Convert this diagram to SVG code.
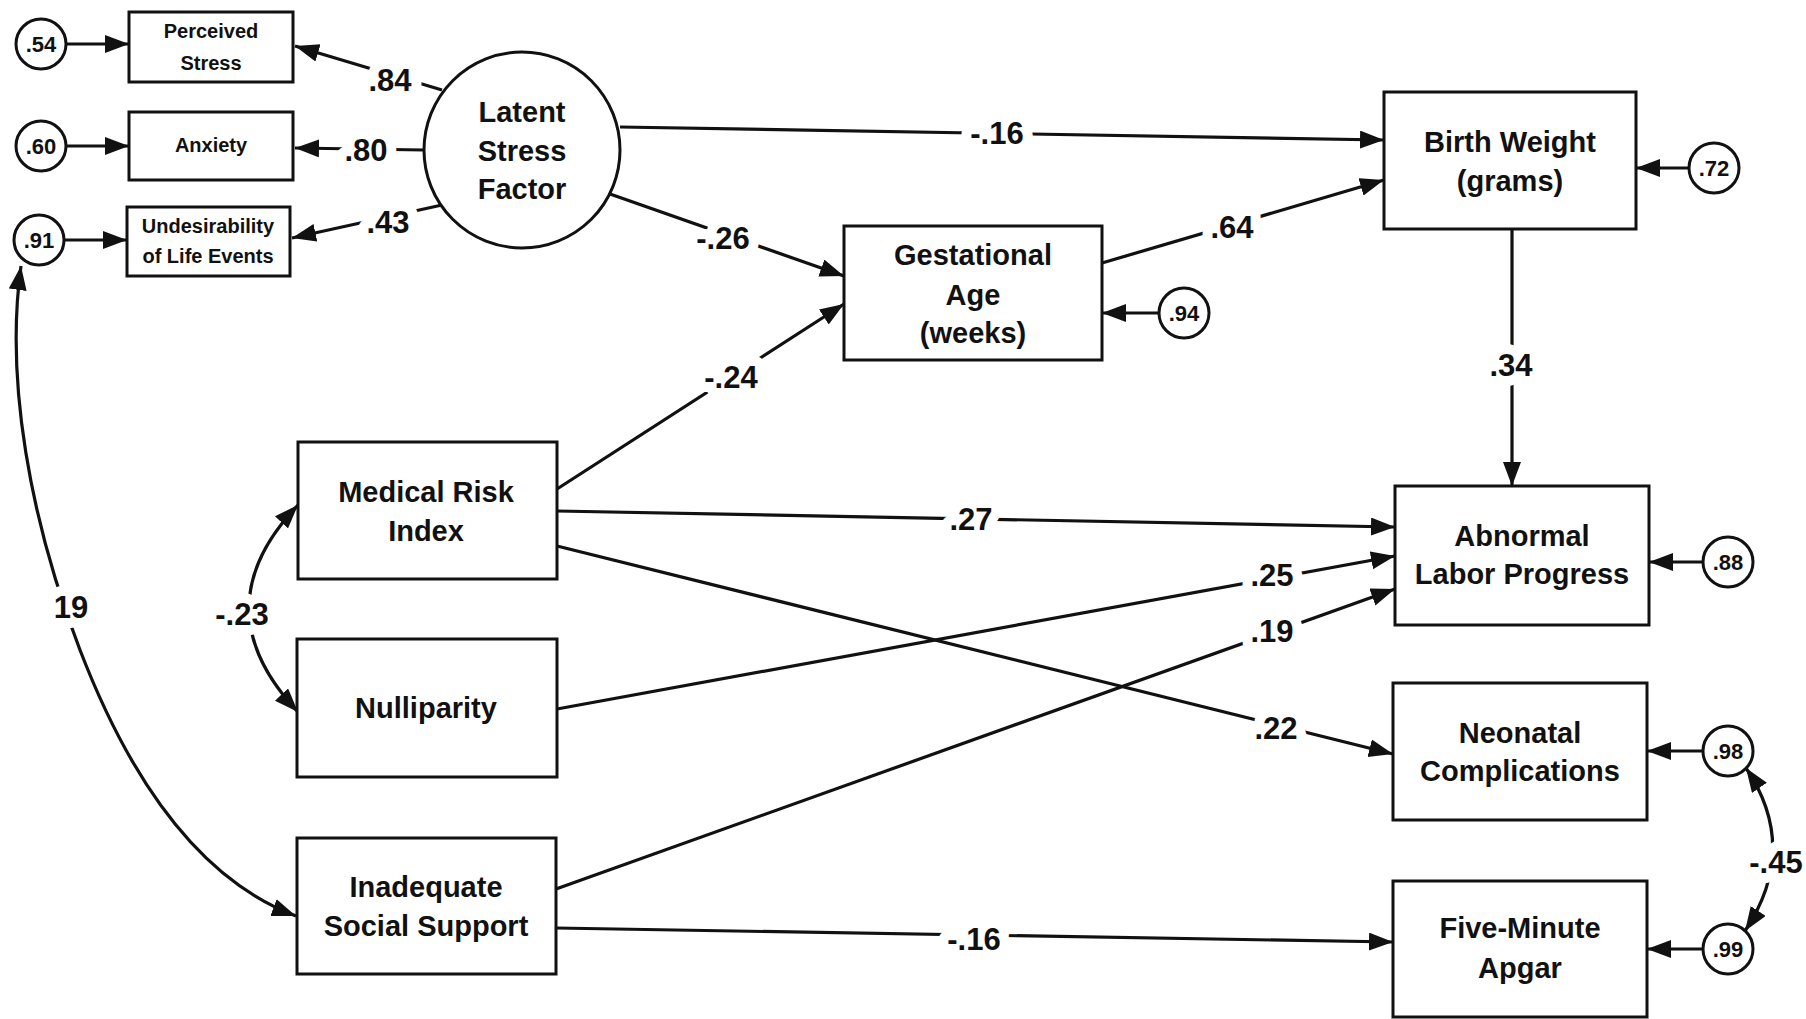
<svg xmlns="http://www.w3.org/2000/svg" width="1806" height="1019" viewBox="0 0 1806 1019">
<style>
.box{fill:#fff;stroke:#111;stroke-width:3}
.err{fill:#fff;stroke:#111;stroke-width:3}
.lat{fill:#fff;stroke:#111;stroke-width:3}
.t{font-family:"Liberation Sans",Arial,sans-serif;font-weight:bold;font-size:29px;fill:#111;text-anchor:middle}
.ts{font-family:"Liberation Sans",Arial,sans-serif;font-weight:bold;font-size:20px;fill:#111;text-anchor:middle}
.te{font-family:"Liberation Sans",Arial,sans-serif;font-weight:bold;font-size:22px;fill:#111;text-anchor:middle}
.lbl{font-family:"Liberation Sans",Arial,sans-serif;font-weight:bold;font-size:31px;fill:#111;text-anchor:middle;paint-order:stroke;stroke:#fff;stroke-width:20px;stroke-linejoin:round}
.c{fill:none;stroke:#111;stroke-width:3.2}
.a{marker-end:url(#ah)}
.d{marker-end:url(#ah);marker-start:url(#ahs)}
</style>
<defs>
<marker id="ah" markerUnits="userSpaceOnUse" markerWidth="26" markerHeight="20" refX="24" refY="9" orient="auto"><path d="M0,0 L24,9 L0,18 z" fill="#111"/></marker>
<marker id="ahs" markerUnits="userSpaceOnUse" markerWidth="26" markerHeight="20" refX="24" refY="9" orient="auto-start-reverse"><path d="M0,0 L24,9 L0,18 z" fill="#111"/></marker>
</defs>
<rect width="1806" height="1019" fill="#fff"/>

<g id="connectors">
<line class="c a" x1="442" y1="90" x2="295" y2="46"/>
<line class="c a" x1="424" y1="150" x2="295" y2="148"/>
<line class="c a" x1="442" y1="205" x2="292" y2="238"/>
<line class="c a" x1="620" y1="127" x2="1384" y2="140"/>
<line class="c a" x1="610" y1="194" x2="844" y2="276"/>
<line class="c a" x1="557" y1="489" x2="844" y2="304"/>
<line class="c a" x1="1102" y1="263" x2="1384" y2="180"/>
<line class="c a" x1="1512" y1="229" x2="1512" y2="486"/>
<line class="c a" x1="557" y1="511" x2="1395" y2="527"/>
<line class="c a" x1="557" y1="709" x2="1395" y2="556"/>
<line class="c a" x1="556" y1="889" x2="1395" y2="589"/>
<line class="c a" x1="557" y1="546" x2="1393" y2="754"/>
<line class="c a" x1="556" y1="928" x2="1393" y2="942"/>
<line class="c a" x1="66" y1="44" x2="129" y2="44"/>
<line class="c a" x1="66" y1="146" x2="129" y2="146"/>
<line class="c a" x1="64" y1="240" x2="127" y2="240"/>
<line class="c a" x1="1159" y1="313" x2="1102" y2="313"/>
<line class="c a" x1="1689" y1="168" x2="1636" y2="168"/>
<line class="c a" x1="1703" y1="562" x2="1649" y2="562"/>
<line class="c a" x1="1703" y1="751" x2="1647" y2="751"/>
<line class="c a" x1="1703" y1="949" x2="1647" y2="949"/>
<path class="c d" d="M 21 266 C 5 380, 30 520, 80 650 C 130 780, 200 880, 296 916"/>
<path class="c d" d="M 298 505 Q 200 608 298 712"/>
<path class="c d" d="M 1746 768 Q 1800 848 1745 931"/>
<text class="lbl" x="390" y="91">.84</text>
<text class="lbl" x="366" y="161">.80</text>
<text class="lbl" x="388" y="233">.43</text>
<text class="lbl" x="997" y="144">-.16</text>
<text class="lbl" x="723" y="249">-.26</text>
<text class="lbl" x="731" y="388">-.24</text>
<text class="lbl" x="1232" y="238">.64</text>
<text class="lbl" x="1511" y="376">.34</text>
<text class="lbl" x="971" y="530">.27</text>
<text class="lbl" x="1272" y="586">.25</text>
<text class="lbl" x="1272" y="642">.19</text>
<text class="lbl" x="1276" y="739">.22</text>
<text class="lbl" x="974" y="950">-.16</text>
<text class="lbl" x="71" y="618">19</text>
<text class="lbl" x="242" y="625">-.23</text>
<text class="lbl" x="1776" y="873">-.45</text>
</g>

<g id="e54"><circle class="err" cx="41" cy="44" r="25"/><text class="te" x="41" y="52">.54</text></g>
<g id="e60"><circle class="err" cx="41" cy="146" r="25"/><text class="te" x="41" y="154">.60</text></g>
<g id="e91"><circle class="err" cx="39" cy="240" r="25"/><text class="te" x="39" y="248">.91</text></g>
<g id="e94"><circle class="err" cx="1184" cy="313" r="25"/><text class="te" x="1184" y="321">.94</text></g>
<g id="e72"><circle class="err" cx="1714" cy="168" r="25"/><text class="te" x="1714" y="176">.72</text></g>
<g id="e88"><circle class="err" cx="1728" cy="562" r="25"/><text class="te" x="1728" y="570">.88</text></g>
<g id="e98"><circle class="err" cx="1728" cy="751" r="25"/><text class="te" x="1728" y="759">.98</text></g>
<g id="e99"><circle class="err" cx="1728" cy="949" r="25"/><text class="te" x="1728" y="957">.99</text></g>

<g id="perceived"><rect class="box" x="129" y="12" width="164" height="70"/><text class="ts" x="211" y="38">Perceived</text><text class="ts" x="211" y="70">Stress</text></g>
<g id="anxiety"><rect class="box" x="129" y="112" width="164" height="68"/><text class="ts" x="211" y="152">Anxiety</text></g>
<g id="undesirability"><rect class="box" x="127" y="207" width="163" height="69"/><text class="ts" x="208" y="233">Undesirability</text><text class="ts" x="208" y="263">of Life Events</text></g>
<g id="latent"><circle class="lat" cx="522" cy="150" r="98"/><text class="t" x="522" y="122">Latent</text><text class="t" x="522" y="161">Stress</text><text class="t" x="522" y="199">Factor</text></g>
<g id="gestational"><rect class="box" x="844" y="226" width="258" height="134"/><text class="t" x="973" y="265">Gestational</text><text class="t" x="973" y="305">Age</text><text class="t" x="973" y="343">(weeks)</text></g>
<g id="birthweight"><rect class="box" x="1384" y="92" width="252" height="137"/><text class="t" x="1510" y="152">Birth Weight</text><text class="t" x="1510" y="191">(grams)</text></g>
<g id="medical"><rect class="box" x="298" y="442" width="259" height="137"/><text class="t" x="426" y="502">Medical Risk</text><text class="t" x="426" y="541">Index</text></g>
<g id="nulliparity"><rect class="box" x="297" y="639" width="260" height="138"/><text class="t" x="426" y="718">Nulliparity</text></g>
<g id="inadequate"><rect class="box" x="297" y="838" width="259" height="136"/><text class="t" x="426" y="897">Inadequate</text><text class="t" x="426" y="936">Social Support</text></g>
<g id="abnormal"><rect class="box" x="1395" y="486" width="254" height="139"/><text class="t" x="1522" y="546">Abnormal</text><text class="t" x="1522" y="584">Labor Progress</text></g>
<g id="neonatal"><rect class="box" x="1393" y="683" width="254" height="137"/><text class="t" x="1520" y="743">Neonatal</text><text class="t" x="1520" y="781">Complications</text></g>
<g id="apgar"><rect class="box" x="1393" y="881" width="254" height="136"/><text class="t" x="1520" y="938">Five-Minute</text><text class="t" x="1520" y="978">Apgar</text></g>
</svg>
